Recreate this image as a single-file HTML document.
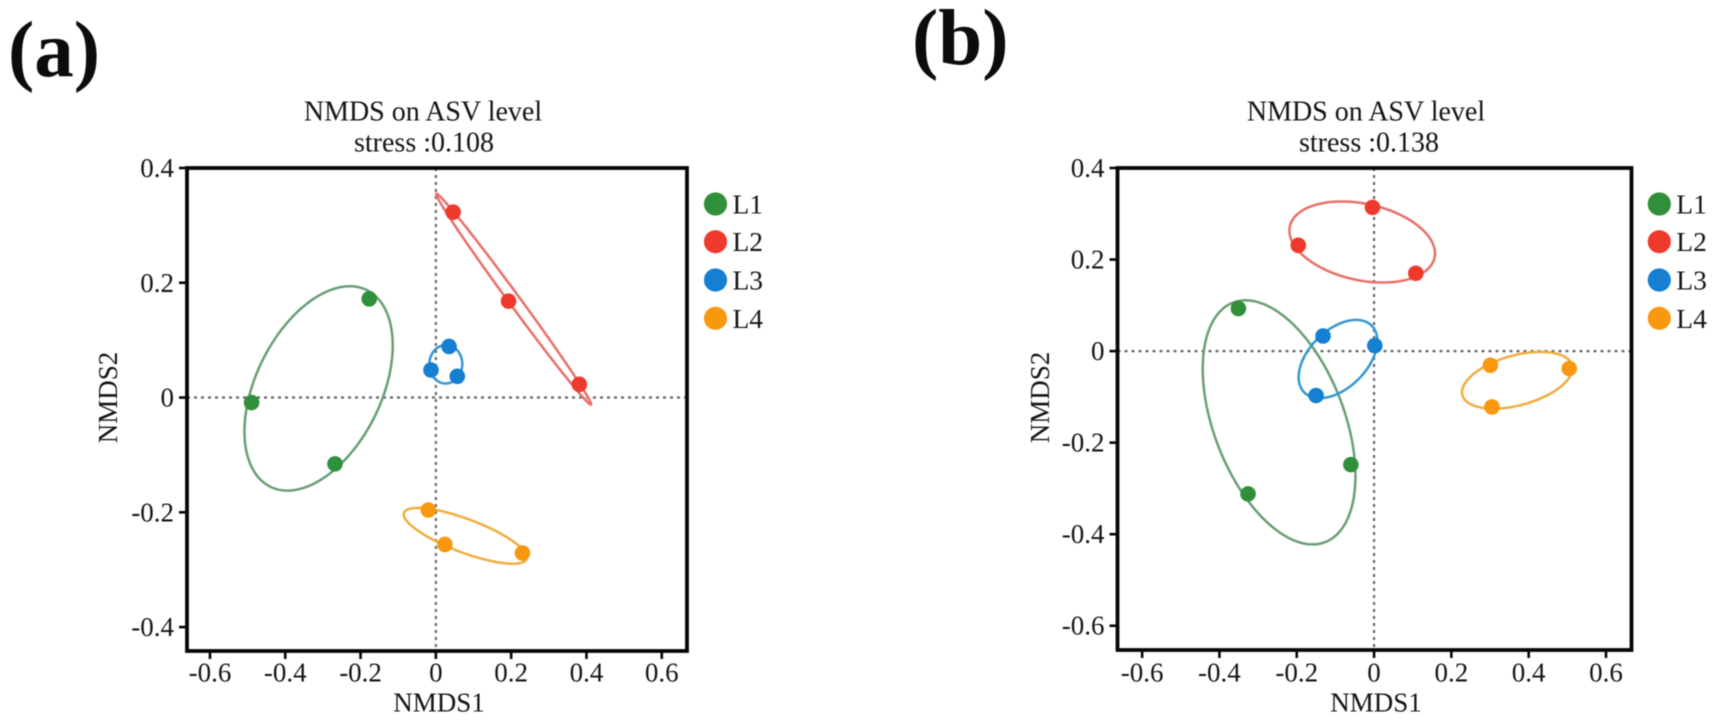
<!DOCTYPE html>
<html lang="en">
<head>
<meta charset="utf-8">
<title>NMDS on ASV level</title>
<style>
html,body{margin:0;padding:0;background:#fff;}
svg{display:block;font-family:"Liberation Serif","Times New Roman",serif;filter:blur(0.4px);}
</style>
</head>
<body>
<svg id="figure" xmlns="http://www.w3.org/2000/svg" width="1713" height="721" viewBox="0 0 1713 721"></svg>
<script>
/* ---------- categories and axis labels ---------- */
const groups = ["L1", "L2", "L3", "L4"];
const xTickValues = [-0.6, -0.4, -0.2, 0, 0.2, 0.4, 0.6];
const yTickValuesA = [0.4, 0.2, 0, -0.2, -0.4];
const yTickValuesB = [0.4, 0.2, 0, -0.2, -0.4, -0.6];
const stressLabelA = "stress :0.108";
const stressLabelB = "stress :0.138";
const titleLabel = "NMDS on ASV level";
const xAxisLabel = "NMDS1";
const yAxisLabel = "NMDS2";

/* ---------- panel (a) site scores ---------- */
const aL1x = [-0.177, -0.4895, -0.268];
const aL1y = [0.172, -0.0087, -0.1156];
const aL2x = [0.046, 0.193, 0.381];
const aL2y = [0.323, 0.168, 0.023];
const aL3x = [0.035, -0.013, 0.057];
const aL3y = [0.089, 0.048, 0.037];
const aL4x = [-0.020, 0.024, 0.230];
const aL4y = [-0.196, -0.256, -0.271];

/* ---------- panel (b) site scores ---------- */
const bL1x = [-0.351, -0.060, -0.326];
const bL1y = [0.093, -0.248, -0.312];
const bL2x = [-0.004, -0.196, 0.108];
const bL2y = [0.314, 0.231, 0.170];
const bL3x = [-0.132, 0.002, -0.150];
const bL3y = [0.033, 0.012, -0.097];
const bL4x = [0.301, 0.505, 0.305];
const bL4y = [-0.031, -0.038, -0.122];

/* ---------- axis limits ---------- */
const aXLimits = [-0.661, 0.667];
const aYLimits = [-0.4417, 0.4];
const bXLimits = [-0.6637, 0.666];
const bYLimits = [-0.653, 0.4];

/* ---------- styling ---------- */
const pointColors = {L1: "#2f8f3a", L2: "#ee3a2c", L3: "#157fd2", L4: "#f7980f"};
const ellipseColors = {L1: "#6a9e74", L2: "#e86f69", L3: "#3597cf", L4: "#efad3e"};
const ellipseScale = 1.225;

const NS = "http://www.w3.org/2000/svg";
const root = document.getElementById("figure");

function make(tag, attrs, parent) {
  const el = document.createElementNS(NS, tag);
  for (const k in attrs) el.setAttribute(k, attrs[k]);
  (parent || root).appendChild(el);
  return el;
}

function linearScale(domain, range) {
  return function (v) {
    return range[0] + (v - domain[0]) / (domain[1] - domain[0]) * (range[1] - range[0]);
  };
}

function mean(a) {
  return a.reduce(function (s, v) { return s + v; }, 0) / a.length;
}

/* Covariance ellipse in data space, mapped through the axis scales */
function ellipsePath(xs, ys, sx, sy) {
  const mx = mean(xs), my = mean(ys), n = xs.length;
  let xx = 0, yy = 0, xy = 0;
  for (let i = 0; i < n; i++) {
    xx += (xs[i] - mx) * (xs[i] - mx);
    yy += (ys[i] - my) * (ys[i] - my);
    xy += (xs[i] - mx) * (ys[i] - my);
  }
  xx /= n - 1; yy /= n - 1; xy /= n - 1;
  const l11 = Math.sqrt(xx);
  const l21 = xy / l11;
  const l22 = Math.sqrt(Math.max(yy - l21 * l21, 0));
  let d = "";
  for (let t = 0; t <= 120; t++) {
    const a = t / 120 * 2 * Math.PI;
    const ux = Math.cos(a), uy = Math.sin(a);
    const dx = mx + ellipseScale * l11 * ux;
    const dy = my + ellipseScale * (l21 * ux + l22 * uy);
    d += (t === 0 ? "M" : "L") + sx(dx).toFixed(2) + " " + sy(dy).toFixed(2);
  }
  return d + "Z";
}

function tickText(v) {
  return v === 0 ? "0" : String(v);
}

function drawPanel(cfg) {
  const sx = linearScale(cfg.xLimits, [cfg.left, cfg.right]);
  const sy = linearScale(cfg.yLimits, [cfg.bottom, cfg.top]);

  const panel = make("g", {});
  
  

  const panelLabel = make("text", {x: cfg.labelX, y: cfg.labelY, "font-size": 79, "font-weight": "bold", fill: "#0c0c0c"}, panel);
  
  
  panelLabel.textContent = "(" + cfg.id + ")";

  const title = make("text", {x: cfg.titleX, y: 120.7, "font-size": 28, "text-anchor": "middle", fill: "#141414"}, panel);
  
  
  title.textContent = titleLabel;

  const stress = make("text", {x: cfg.stressX, y: 151.7, "font-size": 28, "text-anchor": "middle", fill: "#141414"}, panel);
  
  
  stress.textContent = cfg.stress;

  const zeroV = make("line", {x1: sx(0), x2: sx(0), y1: cfg.top, y2: cfg.bottom, stroke: "#66666e", "stroke-width": 2.2, "stroke-dasharray": "3 4"}, panel);
  
  

  const zeroH = make("line", {x1: cfg.left, x2: cfg.right, y1: sy(0), y2: sy(0), stroke: "#66666e", "stroke-width": 2.2, "stroke-dasharray": "3 4"}, panel);
  
  

  groups.forEach(function (g, gi) {
    const xs = cfg.seriesX[gi], ys = cfg.seriesY[gi];
    const ring = make("path", {d: ellipsePath(xs, ys, sx, sy), fill: "none", stroke: ellipseColors[g], "stroke-width": 2.5}, panel);
    
    
  });

  groups.forEach(function (g, gi) {
    const xs = cfg.seriesX[gi], ys = cfg.seriesY[gi];
    xs.forEach(function (v, i) {
      const dot = make("circle", {cx: sx(v), cy: sy(ys[i]), r: 7.8, fill: pointColors[g]}, panel);
      
      
    });
  });

  const frame = make("rect", {x: cfg.left, y: cfg.top, width: cfg.right - cfg.left, height: cfg.bottom - cfg.top, fill: "none", stroke: "#050505", "stroke-width": 3.8}, panel);
  
  

  xTickValues.forEach(function (v) {
    const tick = make("line", {x1: sx(v), x2: sx(v), y1: cfg.bottom, y2: cfg.bottom + 8, stroke: "#050505", "stroke-width": 2.6}, panel);
    
    
    const label = make("text", {x: sx(v), y: 681.7, "font-size": 27, "text-anchor": "middle", fill: "#141414"}, panel);
    
    
    label.textContent = tickText(v);
  });

  cfg.yTicks.forEach(function (v) {
    const tick = make("line", {x1: cfg.left - 8, x2: cfg.left, y1: sy(v), y2: sy(v), stroke: "#050505", "stroke-width": 2.6}, panel);
    
    
    const label = make("text", {x: cfg.left - 13, y: sy(v) + 9, "font-size": 27, "text-anchor": "end", fill: "#141414"}, panel);
    
    
    label.textContent = tickText(v);
  });

  const xTitle = make("text", {x: cfg.xTitleX, y: 711.7, "font-size": 27, "text-anchor": "middle", fill: "#141414"}, panel);
  
  
  xTitle.textContent = xAxisLabel;

  const yTitle = make("text", {x: 0, y: 0, "font-size": 27, "text-anchor": "middle", fill: "#141414", transform: "translate(" + cfg.yTitleX + " 397.5) rotate(-90)"}, panel);
  
  
  yTitle.textContent = yAxisLabel;

  const legendRows = [204, 241.7, 280, 318.3];
  const legend = make("g", {}, panel);
  
  
  groups.forEach(function (g, gi) {
    const swatch = make("circle", {cx: cfg.legendX, cy: legendRows[gi], r: 11.6, fill: pointColors[g]}, legend);
    
    
    const text = make("text", {x: cfg.legendX + 17, y: legendRows[gi] + 9.5, "font-size": 27.5, fill: "#141414"}, legend);
    
    
    text.textContent = g;
  });
}

drawPanel({
  id: "a", left: 187, right: 687, top: 168, bottom: 651,
  xLimits: aXLimits, yLimits: aYLimits, yTicks: yTickValuesA,
  seriesX: [aL1x, aL2x, aL3x, aL4x], seriesY: [aL1y, aL2y, aL3y, aL4y],
  stress: stressLabelA, labelX: 8, labelY: 76, titleX: 423, stressX: 424,
  xTitleX: 439, yTitleX: 117, legendX: 715.5
});

drawPanel({
  id: "b", left: 1117.5, right: 1631.5, top: 168, bottom: 650,
  xLimits: bXLimits, yLimits: bYLimits, yTicks: yTickValuesB,
  seriesX: [bL1x, bL2x, bL3x, bL4x], seriesY: [bL1y, bL2y, bL3y, bL4y],
  stress: stressLabelB, labelX: 912, labelY: 64, titleX: 1366, stressX: 1369,
  xTitleX: 1376, yTitleX: 1049, legendX: 1659.3
});
</script>
</body>
</html>
